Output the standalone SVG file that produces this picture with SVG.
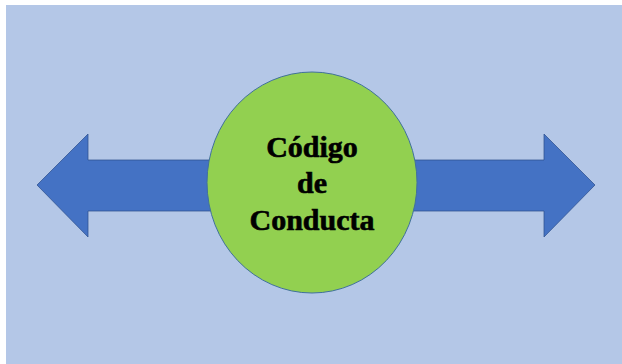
<svg xmlns="http://www.w3.org/2000/svg" width="622" height="364" viewBox="0 0 622 364">
<style>
.arrow{fill:#4472C4;stroke:#2F528F;stroke-width:0.75}
.node{fill:#92D050;stroke:#41719C;stroke-width:1}
.label{font-family:"Liberation Serif","Times New Roman",serif;font-weight:bold;font-size:30px;fill:#000;text-anchor:middle;stroke:#000;stroke-width:0.6}
</style>
<rect x="0" y="0" width="622" height="364" fill="#FFFFFF"/>
<rect x="6" y="5" width="616" height="359" fill="#B4C7E7"/>
<g id="connectors">
<path class="arrow" d="M37,185 L88,134 L88,160 L230,160 L230,211 L88,211 L88,237 Z"/>
<path class="arrow" d="M595,185 L544,134 L544,160 L395,160 L395,211 L544,211 L544,237 Z"/>
</g>
<g id="codigo">
<ellipse class="node" cx="312" cy="182.5" rx="105" ry="110.5"/>
<text class="label" x="312" y="157">Código</text>
<text class="label" x="312" y="193">de</text>
<text class="label" x="312" y="230">Conducta</text>
</g>
</svg>
